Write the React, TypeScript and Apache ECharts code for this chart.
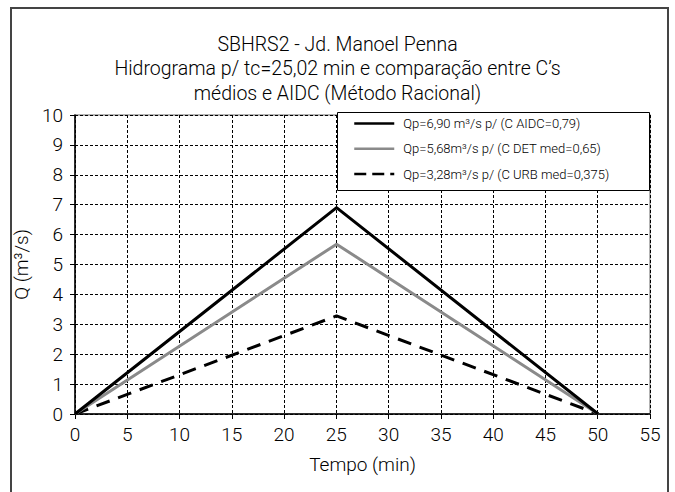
import React, { useEffect, useRef } from "react";
import * as echarts from "echarts";

const titleLines = [
  "SBHRS2 - Jd. Manoel Penna",
  "Hidrograma p/ tc=25,02 min e comparação entre C’s",
  "médios e AIDC (Método Racional)",
];
const seriesNames = [
  "Qp=6,90 m³/s p/ (C AIDC=0,79)",
  "Qp=5,68m³/s p/ (C DET med=0,65)",
  "Qp=3,28m³/s p/ (C URB med=0,375)",
];
const timeMin = [0, 25.02, 50.04];
const qAIDC = [0, 6.9, 0];
const qDET = [0, 5.68, 0];
const qURB = [0, 3.28, 0];

const FONT = "Roboto";

export default function App() {
  const ref = useRef<HTMLDivElement>(null);
  useEffect(() => {
    if (!ref.current) return;
    const chart = echarts.init(ref.current, null, { renderer: "svg" });
    const mk = (arr: number[]) => timeMin.map((t, i) => [t, arr[i]]);
    const txt = { fontFamily: FONT, fontWeight: 300 as any, color: "#000" };
    chart.setOption({
      animation: false,
      backgroundColor: "#fff",
      title: {
        text: titleLines.join("\n"),
        left: "center",
        top: 27,
        textStyle: { ...txt, fontSize: 19.5, lineHeight: 24.5 },
      },
      legend: {
        orient: "vertical",
        left: 353,
        top: 117,
        padding: 0,
        itemWidth: 40,
        itemHeight: 14,
        itemGap: 12.3,
        textStyle: { ...txt, fontSize: 13, padding: [0, 0, 0, 4] },
        itemStyle: { opacity: 0 },
        data: [
          { name: seriesNames[0], lineStyle: { color: "#000", width: 2.5, type: "solid" } },
          { name: seriesNames[1], lineStyle: { color: "#8a8a8a", width: 2.5, type: "solid" } },
          { name: seriesNames[2], lineStyle: { color: "#000", width: 2.5, type: [12, 6] } },
        ],
        z: 20,
      },
      graphic: [
        {
          type: "rect",
          shape: { x: 11, y: 8, width: 657, height: 500 },
          style: { fill: "none", stroke: "#444", lineWidth: 2 },
          silent: true,
          z: 1,
        },
        {
          type: "rect",
          shape: { x: 337.5, y: 112.5, width: 312, height: 78 },
          style: { fill: "#fff", stroke: "#000", lineWidth: 1 },
          silent: true,
          z: 15,
        },
      ],
      grid: {
        left: 75,
        right: 25,
        top: 115,
        bottom: 78,
        show: true,
        borderColor: "#999",
        borderWidth: 1.5,
      },
      xAxis: {
        type: "value",
        min: 0,
        max: 55,
        interval: 5,
        name: "Tempo (min)",
        nameLocation: "middle",
        nameGap: 41,
        nameTextStyle: { ...txt, fontSize: 19 },
        axisLine: { show: true, lineStyle: { color: "#000", width: 1.5 } },
        axisTick: { show: true, length: 5, lineStyle: { color: "#000" } },
        axisLabel: { ...txt, fontSize: 19, margin: 11 },
        splitLine: { show: true, lineStyle: { color: "#000", type: [3, 2], width: 1 } },
      },
      yAxis: {
        type: "value",
        min: 0,
        max: 10,
        interval: 1,
        name: "Q (m³/s)",
        nameLocation: "middle",
        nameGap: 28,
        nameTextStyle: { ...txt, fontSize: 19 },
        axisLine: { show: true, lineStyle: { color: "#000", width: 1.5 } },
        axisTick: { show: true, length: 5, lineStyle: { color: "#000" } },
        axisLabel: { ...txt, fontSize: 19, margin: 12 },
        splitLine: { show: true, lineStyle: { color: "#000", type: [3, 2], width: 1 } },
      },
      series: [
        {
          name: seriesNames[0],
          type: "line",
          data: mk(qAIDC),
          symbol: "none",
          lineStyle: { color: "#000", width: 3 },
          itemStyle: { color: "#000" },
          z: 5,
        },
        {
          name: seriesNames[1],
          type: "line",
          data: mk(qDET),
          symbol: "none",
          lineStyle: { color: "#8a8a8a", width: 3 },
          itemStyle: { color: "#8a8a8a" },
          z: 4,
        },
        {
          name: seriesNames[2],
          type: "line",
          data: mk(qURB),
          symbol: "none",
          lineStyle: { color: "#000", width: 3, type: [14, 9] },
          itemStyle: { color: "#000" },
          z: 3,
        },
      ],
    });
    return () => chart.dispose();
  }, []);
  return (
    <div
      ref={ref}
      style={{ position: "fixed", left: 0, top: 0, width: 675, height: 492 }}
    />
  );
}
